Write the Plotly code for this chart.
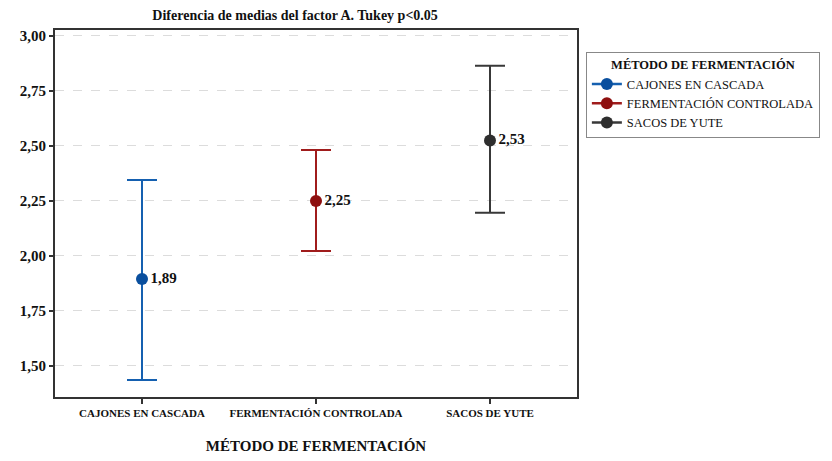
import plotly.graph_objects as go

categories = ["CAJONES EN CASCADA", "FERMENTACIÓN CONTROLADA", "SACOS DE YUTE"]
means = [1.895, 2.25, 2.525]
upper = [2.345, 2.482, 2.865]
lower = [1.436, 2.022, 2.196]
labels = ["1,89", "2,25", "2,53"]
colors = ["#1560b0", "#a01c1c", "#383838"]
marker_colors = ["#0a4f9e", "#8e1010", "#2e2e2e"]

FONT = "'Liberation Serif', 'Times New Roman', Times, serif"

fig = go.Figure()
for i, cat in enumerate(categories):
    fig.add_trace(go.Scatter(
        x=[cat], y=[means[i]],
        mode="lines+markers+text",
        name=cat,
        text=["<b>" + labels[i] + "</b>"],
        textposition="middle right",
        textfont=dict(family=FONT, size=15, color="#111111"),
        marker=dict(size=12, color=marker_colors[i]),
        line=dict(color=colors[i], width=2.5),
        error_y=dict(type="data", symmetric=False,
                     array=[upper[i] - means[i]],
                     arrayminus=[means[i] - lower[i]],
                     color=colors[i], thickness=2, width=15),
    ))

fig.update_layout(
    width=824, height=453,
    margin=dict(l=40, r=254, t=22, b=64),
    paper_bgcolor="white", plot_bgcolor="white",
    separators=",.",
    font=dict(family=FONT, color="#111111"),
    title=dict(text="<b>Diferencia de medias del factor A. Tukey p<0.05</b>",
               x=0.46, xref="paper", xanchor="center", y=0.985, yanchor="middle",
               font=dict(family=FONT, size=14, color="#111111")),
    showlegend=True,
    legend=dict(
        title=dict(text="<b>MÉTODO DE FERMENTACIÓN</b>", side="top center",
                   font=dict(family=FONT, size=12.5, color="#111111")),
        x=1.017, xanchor="left", y=0.94, yanchor="top",
        bordercolor="#888888", borderwidth=1,
        font=dict(family=FONT, size=12.5, color="#111111"),
        itemwidth=30, tracegroupgap=0,
    ),
    xaxis=dict(
        type="category", categoryorder="array", categoryarray=categories,
        range=[-0.5, 2.5], automargin=False,
        showline=True, linecolor="#333333", linewidth=2, mirror=True,
        ticks="outside", ticklen=5, tickcolor="#333333", tickwidth=1.5,
        tickfont=dict(family=FONT, size=11, color="#111111"),
        tickvals=categories,
        ticktext=["<b>" + c + "</b>" for c in categories],
        showgrid=False,
        title=dict(text="<b>MÉTODO DE FERMENTACIÓN</b>",
                   font=dict(family=FONT, size=15, color="#111111"), standoff=22),
    ),
    yaxis=dict(
        range=[1.359, 3.027],
        tickvals=[1.5, 1.75, 2.0, 2.25, 2.5, 2.75, 3.0],
        ticktext=["<b>1,50</b>", "<b>1,75</b>", "<b>2,00</b>", "<b>2,25</b>",
                  "<b>2,50</b>", "<b>2,75</b>", "<b>3,00</b>"],
        showline=True, linecolor="#333333", linewidth=2, mirror=True,
        ticks="outside", ticklen=4, tickcolor="#333333", tickwidth=1.5,
        tickfont=dict(family=FONT, size=15, color="#111111"),
        showgrid=True, gridcolor="#dcdcdc", griddash="dash", gridwidth=1,
        zeroline=False,
    ),
)

fig.write_html("out.html")
